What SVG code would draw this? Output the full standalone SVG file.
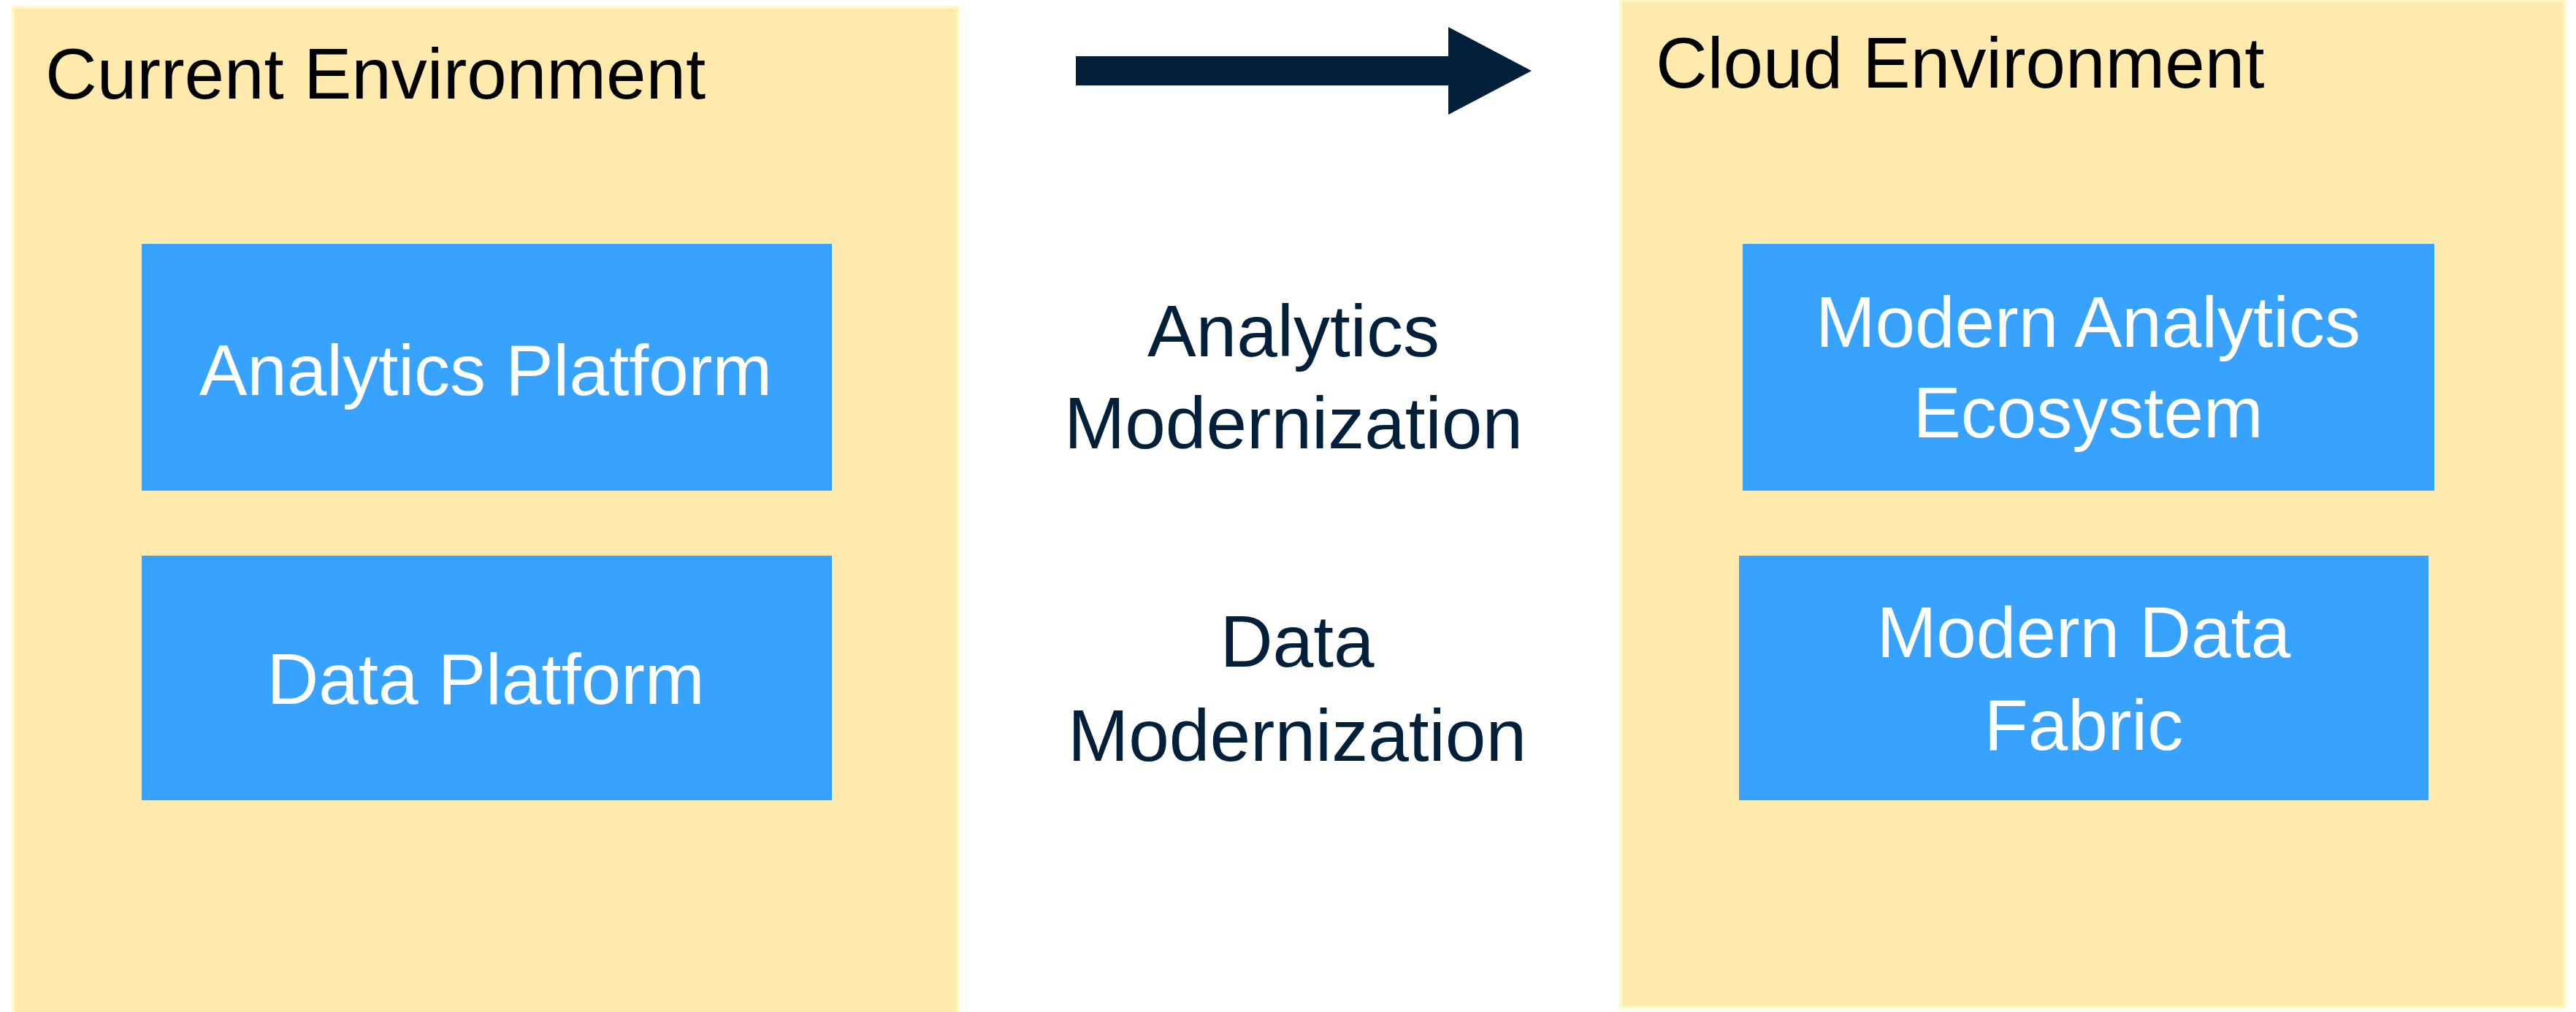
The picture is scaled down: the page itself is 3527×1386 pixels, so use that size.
<svg xmlns="http://www.w3.org/2000/svg" width="3527" height="1386" viewBox="0 0 3527 1386">
<style>
.panel{fill:#FEEAAD;stroke:#FFF8C4;stroke-width:4}
.box{fill:#37A3FE}
.title{font-family:"Liberation Sans",Arial,sans-serif;font-size:98px;fill:#000000}
.lbl{font-family:"Liberation Sans",Arial,sans-serif;font-size:98px;fill:#FFFFFF;text-anchor:middle}
.mid{font-family:"Liberation Sans",Arial,sans-serif;font-size:100px;fill:#03203A;text-anchor:middle}
</style>
<rect width="3527" height="1386" fill="#FFFFFF"/>
<g id="current-env">
<rect class="panel" x="18" y="10" width="1293" height="1380"/>
<text class="title" x="62" y="135">Current Environment</text>
</g>
<g id="cloud-env">
<rect class="panel" x="2219" y="1" width="1292" height="1378"/>
<text class="title" x="2267" y="120">Cloud Environment</text>
</g>
<g id="analytics-platform">
<rect class="box" x="194" y="334" width="945" height="338"/>
<text class="lbl" x="665" y="541">Analytics Platform</text>
</g>
<g id="data-platform">
<rect class="box" x="194" y="761" width="945" height="335"/>
<text class="lbl" x="665" y="964">Data Platform</text>
</g>
<g id="modern-analytics">
<rect class="box" x="2386" y="334" width="947" height="338"/>
<text class="lbl" x="2859" y="475">Modern Analytics</text>
<text class="lbl" x="2859" y="599">Ecosystem</text>
</g>
<g id="modern-data">
<rect class="box" x="2381" y="761" width="944" height="335"/>
<text class="lbl" x="2853" y="900">Modern Data</text>
<text class="lbl" x="2853" y="1027">Fabric</text>
</g>
<g id="analytics-modernization">
<text class="mid" x="1771" y="488">Analytics</text>
<text class="mid" x="1771" y="614">Modernization</text>
</g>
<g id="data-modernization">
<text class="mid" x="1776" y="913">Data</text>
<text class="mid" x="1776" y="1042">Modernization</text>
</g>
<g id="connectors">
<polygon points="1473,77 1983,77 1983,37 2097,97 1983,157 1983,117 1473,117" fill="#03203A"/>
</g>
</svg>
